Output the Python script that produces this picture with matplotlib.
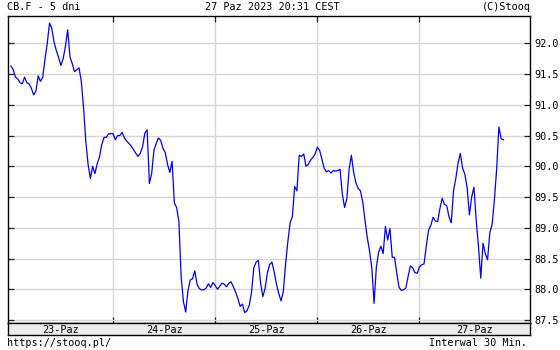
import matplotlib
matplotlib.use("Agg")
import matplotlib.pyplot as plt
import numpy as np

# ---------------- data ----------------
title_left = "CB.F - 5 dni"
title_mid = "27 Paz 2023 20:31 CEST"
title_right = "(C)Stooq"
footer_left = "https://stooq.pl/"
footer_right = "Interwal 30 Min."

day_labels = ["23-Paz", "24-Paz", "25-Paz", "26-Paz", "27-Paz"]
y_ticks = [87.5, 88.0, 88.5, 89.0, 89.5, 90.0, 90.5, 91.0, 91.5, 92.0]

day1 = [91.63, 91.57, 91.45, 91.42, 91.36, 91.34, 91.45, 91.36, 91.34, 91.27,
        91.16, 91.22, 91.47, 91.38, 91.45, 91.74, 92.00, 92.33, 92.24, 92.02,
        91.88, 91.77, 91.64, 91.75, 91.95, 92.22, 91.78, 91.67, 91.54, 91.57,
        91.60, 91.38, 90.95, 90.40, 90.03, 89.80, 90.00, 89.88, 90.04, 90.15,
        90.35, 90.47, 90.47, 90.53, 90.53]
day2 = [90.53, 90.43, 90.50, 90.50, 90.55, 90.46, 90.41, 90.37, 90.33, 90.27,
        90.21, 90.16, 90.21, 90.32, 90.54, 90.59, 89.72, 89.88, 90.26, 90.37,
        90.46, 90.42, 90.29, 90.22, 90.03, 89.90, 90.08, 89.40, 89.33, 89.10,
        88.20, 87.80, 87.63, 87.98, 88.15, 88.17, 88.30, 88.08, 88.01, 87.99,
        87.99, 88.02, 88.09, 88.03, 88.11]
day3 = [88.06, 88.00, 88.05, 88.10, 88.08, 88.04, 88.10, 88.12, 88.04, 87.95,
        87.85, 87.72, 87.76, 87.62, 87.65, 87.74, 87.95, 88.35, 88.44, 88.47,
        88.10, 87.88, 88.02, 88.27, 88.40, 88.44, 88.28, 88.08, 87.93, 87.81,
        87.96, 88.41, 88.77, 89.08, 89.18, 89.67, 89.60, 90.18, 90.16, 90.20,
        90.00, 90.03, 90.10, 90.14, 90.20]
day4 = [90.31, 90.26, 90.12, 89.97, 89.91, 89.93, 89.89, 89.93, 89.92, 89.93,
        89.95, 89.55, 89.33, 89.47, 89.95, 90.18, 89.90, 89.73, 89.64, 89.60,
        89.42, 89.12, 88.84, 88.62, 88.35, 87.77, 88.36, 88.60, 88.70, 88.58,
        89.02, 88.80, 88.99, 88.52, 88.52, 88.26, 88.03, 87.98, 87.99, 88.02,
        88.21, 88.38, 88.35, 88.27, 88.26]
day5 = [88.36, 88.40, 88.41, 88.70, 88.96, 89.04, 89.17, 89.11, 89.10, 89.31,
        89.48, 89.38, 89.36, 89.18, 89.08, 89.60, 89.80, 90.05, 90.21, 89.97,
        89.87, 89.65, 89.21, 89.50, 89.66, 89.12, 88.70, 88.18, 88.75, 88.58,
        88.48, 88.92, 89.05, 89.45, 89.95, 90.64, 90.45, 90.43]

days = [day1, day2, day3, day4, day5]
prices = np.concatenate(days)
day_start = np.cumsum([0] + [len(d) for d in days[:-1]])
x = np.arange(len(prices))

# ---------------- figure ----------------
W, H = 560, 350
fig = plt.figure(figsize=(W / 100, H / 100), dpi=100)
fig.patch.set_facecolor("white")

FONT = "DejaVu Sans Mono"
FS = 7.3

ax_l, ax_r, ax_t, ax_b = 8, 530, 16, 323
band_b = 335
ax = fig.add_axes([ax_l / W, 1 - ax_b / H, (ax_r - ax_l) / W, (ax_b - ax_t) / H])

xmin, xmax = -1.3, 228.7
ymin, ymax = 87.451, 92.444

ax.plot(x, prices, color="#0000ff", lw=0.9, zorder=3)
ax.set_xlim(xmin, xmax)
ax.set_ylim(ymin, ymax)

ax.set_xticks(day_start[1:])
ax.set_yticks(y_ticks)
ax.set_yticklabels([f"{v:.1f}" for v in y_ticks], fontfamily=FONT, fontsize=FS)
ax.grid(True, color="#d6d6d6", lw=1.0, zorder=0)
ax.tick_params(axis="both", direction="in", length=4, width=0.9, color="#222222",
               top=True, right=True, left=True, bottom=True,
               labelleft=False, labelright=True, labelbottom=False, pad=3)
ax.tick_params(axis="y", labelcolor="black")
for s in ax.spines.values():
    s.set_color("black")
    s.set_linewidth(1.0)

# date band
bx = fig.add_axes([ax_l / W, 1 - band_b / H, (ax_r - ax_l) / W, (band_b - ax_b) / H])
bx.set_facecolor("#ececec")
bx.set_xlim(xmin, xmax)
bx.set_ylim(0, 1)
bx.set_xticks([])
bx.set_yticks([])
for s in bx.spines.values():
    s.set_color("black")
    s.set_linewidth(1.0)
bounds = [xmin] + list(day_start[1:]) + [xmax]
for i, lab in enumerate(day_labels):
    c = (bounds[i] + bounds[i + 1]) / 2
    bx.text(c, 0.45, lab, ha="center", va="center", fontfamily=FONT, fontsize=FS)

# header / footer
fig.text(7 / W, 1 - 7.5 / H, title_left, ha="left", va="center", fontfamily=FONT, fontsize=FS)
fig.text(272 / W, 1 - 7.5 / H, title_mid, ha="center", va="center", fontfamily=FONT, fontsize=FS)
fig.text(531 / W, 1 - 7.5 / H, title_right, ha="right", va="center", fontfamily=FONT, fontsize=FS)
fig.text(7 / W, 1 - 343 / H, footer_left, ha="left", va="center", fontfamily=FONT, fontsize=FS)
fig.text(527 / W, 1 - 343 / H, footer_right, ha="right", va="center", fontfamily=FONT, fontsize=FS)

fig.savefig("out.png", dpi=100, facecolor="white")
